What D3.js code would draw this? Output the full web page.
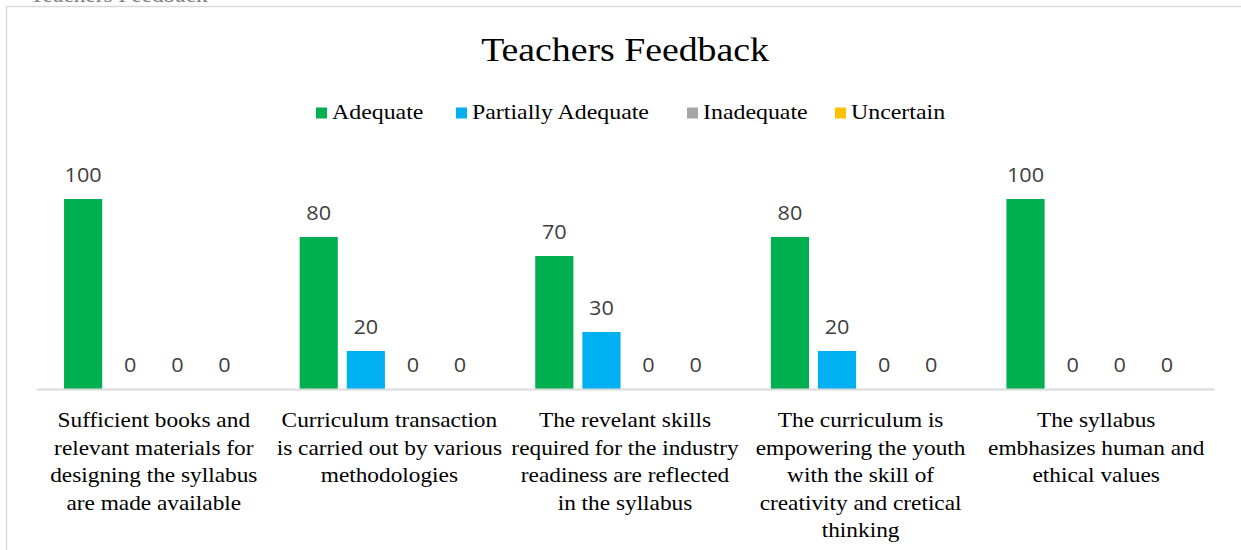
<!DOCTYPE html>
<html>
<head>
<meta charset="utf-8">
<script src="https://cdn.jsdelivr.net/npm/d3@7"></script>
<style>
  body { margin: 0; background: #fff; }
  svg { display: block; }
</style>
</head>
<body>
<div id="chart"></div>
<script>
var width = 1241
var height = 550

const categories = [
  ["Sufficient books and", "relevant materials for", "designing the syllabus", "are made available"],
  ["Curriculum transaction", "is carried out by various", "methodologies"],
  ["The revelant skills", "required for the industry", "readiness are reflected", "in the syllabus"],
  ["The curriculum is", "empowering the youth", "with the skill of", "creativity and cretical", "thinking"],
  ["The syllabus", "embhasizes human and", "ethical values"]
];
const seriesNames = ["Adequate", "Partially Adequate", "Inadequate", "Uncertain"];
const adequate = [100, 80, 70, 80, 100];
const partiallyAdequate = [0, 20, 30, 20, 0];
const inadequate = [0, 0, 0, 0, 0];
const uncertain = [0, 0, 0, 0, 0];
const colors = ["#00B050", "#00B0F0", "#A5A5A5", "#FFC000"];

const seriesValues = [adequate, partiallyAdequate, inadequate, uncertain];

// the picture's text is a bit wider than the fonts, stretch it sideways
const stretch = 1.11
const widen = sel => sel.each(function() {
  const len = this.getComputedTextLength()
  d3.select(this)
    .attr("textLength", len * stretch)
    .attr("lengthAdjust", "spacingAndGlyphs")
})

var svg = d3.select("#chart").append("svg")
  .attr("width", width)
  .attr("height", height)

// chart frame: only left and top edges are in view
svg.append("path")
  .attr("d", `M6.5,${height} V6.5 H${width}`)
  .attr("fill", "none")
  .attr("stroke", "#d9d9d9")
  .attr("stroke-width", 1.5)

// caption cut off at the top edge
svg.append("text")
  .attr("x", 30).attr("y", 2)
  .attr("font-family", "Liberation Serif")
  .attr("font-size", 21)
  .attr("fill", "#808080")
  .text("Teachers Feedback")
  .call(widen)

svg.append("text")
  .attr("x", 625).attr("y", 61)
  .attr("text-anchor", "middle")
  .attr("font-family", "Liberation Serif")
  .attr("font-size", 34)
  .attr("fill", "#000")
  .text("Teachers Feedback")
  .call(widen)

// legend
const legendX = [316, 456, 687, 835];
const legend = svg.append("g")
seriesNames.forEach((name, i) => {
  legend.append("rect")
    .attr("x", legendX[i]).attr("y", 107.5)
    .attr("width", 11).attr("height", 11)
    .attr("fill", colors[i])
  legend.append("text")
    .attr("x", legendX[i] + 16).attr("y", 119)
    .attr("font-family", "Liberation Serif")
    .attr("font-size", 21.5)
    .attr("fill", "#000")
    .text(name)
    .call(widen)
})

const margin = {top: 199, left: 36, right: 27, bottom: 161}

const x0 = d3.scaleBand()
  .domain(d3.range(categories.length))
  .range([margin.left, width - margin.right])
  .paddingInner(0.2)
  .paddingOuter(0.1)

const x1 = d3.scaleBand()
  .domain(d3.range(seriesNames.length))
  .range([0, x0.bandwidth()])
  .paddingInner(0.19)
  .paddingOuter(0.095)

const y = d3.scaleLinear()
  .domain([0, 100])
  .range([height - margin.bottom, margin.top])

const cells = []
categories.forEach((c, i) => {
  seriesValues.forEach((s, k) => cells.push({i: i, k: k, v: s[i]}))
})

svg.append("g").selectAll("rect")
  .data(cells)
  .enter().append("rect")
  .attr("x", d => x0(d.i) + x1(d.k))
  .attr("y", d => y(d.v))
  .attr("width", x1.bandwidth())
  .attr("height", d => y(0) - y(d.v))
  .attr("fill", d => colors[d.k])

svg.append("g").selectAll("text")
  .data(cells)
  .enter().append("text")
  .attr("x", d => x0(d.i) + x1(d.k) + x1.bandwidth() / 2)
  .attr("y", d => y(d.v) - 17)
  .attr("text-anchor", "middle")
  .attr("font-family", "Open Sans")
  .attr("font-size", 19.5)
  .attr("fill", "#404040")
  .text(d => d.v)
  .call(widen)

// baseline
const axisG = svg.append("g")
  .attr("transform", `translate(0, ${y(0)})`)
  .call(d3.axisBottom(x0).tickSize(0).tickFormat(""))
axisG.select(".domain").attr("stroke", "#d9d9d9").attr("stroke-width", 2)

// category labels, one text per line
const lines = []
categories.forEach((c, i) => c.forEach((t, j) => lines.push({i: i, j: j, t: t})))

svg.append("g").selectAll("text")
  .data(lines)
  .enter().append("text")
  .attr("x", d => x0(d.i) + x0.bandwidth() / 2)
  .attr("y", d => y(0) + 38 + d.j * 27.5)
  .attr("text-anchor", "middle")
  .attr("font-family", "Liberation Serif")
  .attr("font-size", 21)
  .attr("fill", "#000")
  .text(d => d.t)
  .call(widen)
</script>
</body>
</html>
